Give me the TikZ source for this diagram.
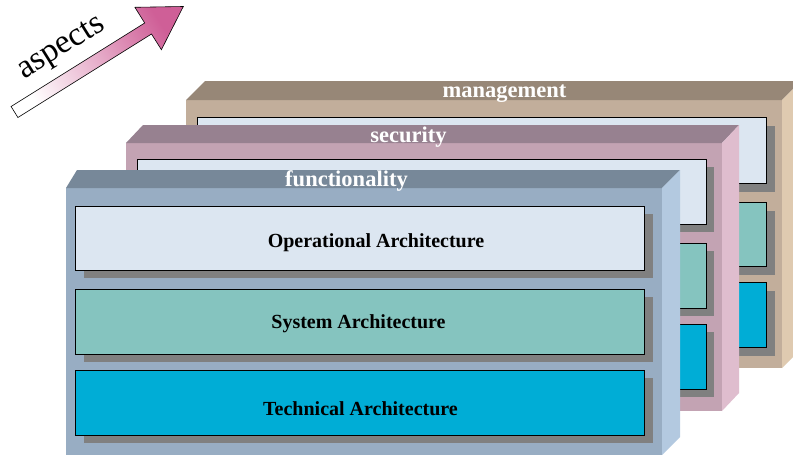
\documentclass[tikz,border=0pt]{standalone}
\usepackage{fontspec}
\setmainfont{Liberation Serif}
\usetikzlibrary{shadows}
\definecolor{mtop}{HTML}{978777}
\definecolor{mfront}{HTML}{C2AE9B}
\definecolor{mside}{HTML}{DFCAB0}
\definecolor{stop}{HTML}{978190}
\definecolor{sfront}{HTML}{C3A3B3}
\definecolor{sside}{HTML}{DFBDCE}
\definecolor{ftop}{HTML}{778899}
\definecolor{ffront}{HTML}{98ADC3}
\definecolor{fside}{HTML}{B3C9E0}
\definecolor{shadowgray}{HTML}{808080}
\definecolor{opA}{HTML}{DCE6F1}
\definecolor{opB}{HTML}{E9F1FB}
\definecolor{syA}{HTML}{85C4BF}
\definecolor{syB}{HTML}{9ADDD9}
\definecolor{teA}{HTML}{00ADD6}
\definecolor{teB}{HTML}{00C3EE}
\definecolor{arrowpink}{HTML}{CF5F97}
\tikzset{
  archbox/.style={draw=black, line width=0.8pt, inner sep=0pt, minimum width=569pt},
  opbox/.style={archbox, left color=opA, middle color=opB, right color=opA},
  sysbox/.style={archbox, left color=syA, middle color=syB, right color=syA},
  techbox/.style={archbox, left color=teA, middle color=teB, right color=teA},
  shadowA/.style={drop shadow={shadow xshift=9pt, shadow yshift=-9pt, fill=shadowgray, opacity=1}},
  shadowB/.style={drop shadow={shadow xshift=8pt, shadow yshift=-8pt, fill=shadowgray, opacity=1}},
  shadowC/.style={drop shadow={shadow xshift=9pt, shadow yshift=-8pt, fill=shadowgray, opacity=1}},
  aspectlabel/.style={text=white, font=\bfseries\fontsize{22.5}{26}\selectfont, inner sep=0pt, anchor=base},
  boxlabel/.style={text=black, font=\bfseries\fontsize{20}{24}\selectfont, inner sep=0pt, anchor=base}
}
\begin{document}
\begin{tikzpicture}[x=1pt,y=-1pt]
\clip (0,0) rectangle (793,455);
\fill[white] (0,0) rectangle (793,455);

% aspects arrow
\shade[top color=arrowpink, bottom color=white, shading angle=-58, draw=black, line width=0.6pt, line join=miter]
  (17.9,117.5) -- (11.1,106.5) -- (144.7,23.0) -- (134.9,7.3) -- (183.3,6.5) -- (161.4,49.7) -- (151.5,34.0) -- cycle;
\node[rotate=32, font=\fontsize{33.5}{38}\selectfont, inner sep=0pt] (aspects) at (62,49) {aspects};

% management panel
\fill[mfront] (186,100) rectangle (782,368);
\fill[mtop] (186,100) -- (205,81) -- (801,81) -- (782,100) -- cycle;
\fill[mside] (782,100) -- (801,81) -- (801,349) -- (782,368) -- cycle;
\node[aspectlabel] (mgmt) at (504.5,97) {management};
\node[opbox, shadowA, minimum height=66pt] (mop) at (481.5,150) {};
\node[sysbox, shadowA, minimum height=64pt] (msys) at (481.5,234) {};
\node[techbox, shadowA, minimum height=65pt] (mtech) at (481.5,314.5) {};

% security panel
\fill[sfront] (126,143) rectangle (722,411);
\fill[stop] (126,143) -- (143,125) -- (739,125) -- (722,143) -- cycle;
\fill[sside] (722,143) -- (739,125) -- (739,393) -- (722,411) -- cycle;
\node[aspectlabel] (sec) at (408.5,142) {security};
\node[opbox, shadowB, minimum height=65pt] (sop) at (421.5,191.5) {};
\node[sysbox, shadowB, minimum height=65pt] (ssys) at (421.5,275.5) {};
\node[techbox, shadowB, minimum height=65pt] (stech) at (421.5,356.5) {};

% functionality panel
\fill[ffront] (66,188) rectangle (662,460);
\fill[ftop] (66,188) -- (77,170) -- (680,170) -- (662,188) -- cycle;
\fill[fside] (662,188) -- (680,170) -- (680,437) -- (662,455) -- cycle;
\node[aspectlabel] (func) at (346.5,186.5) {functionality};
\node[opbox, shadowC, minimum height=64pt] (fop) at (359.5,238) {};
\node[sysbox, shadowC, minimum height=65pt] (fsys) at (359.5,321.5) {};
\node[techbox, shadowC, minimum height=65pt] (ftech) at (359.5,402.5) {};
\node[boxlabel] (oplab) at (376,247) {Operational Architecture};
\node[boxlabel] (syslab) at (358.5,328.5) {System Architecture};
\node[boxlabel] (techlab) at (360.5,415) {Technical Architecture};
\end{tikzpicture}
\end{document}
